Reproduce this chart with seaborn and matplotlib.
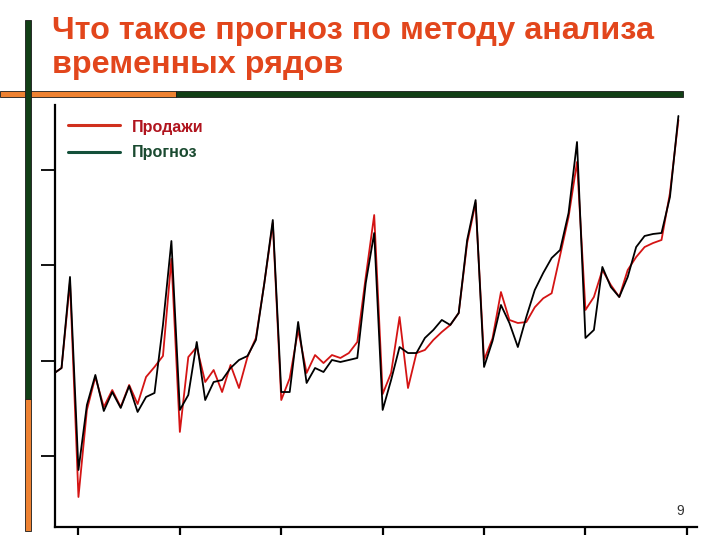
import matplotlib
matplotlib.use("Agg")
import matplotlib.pyplot as plt
import pandas as pd
import seaborn as sns
from matplotlib.lines import Line2D
from matplotlib.patches import Rectangle

# DATA
months = list(range(75))
sales = [186.0, 192.3, 282.5, 57.0, 148.3, 182.9, 151.4, 169.2, 151.4, 174.5,
         154.5, 182.9, 193.4, 204.9, 306.7, 125.2, 203.8, 214.3, 177.6, 190.2,
         167.1, 195.5, 171.3, 203.8, 223.8, 281.5, 344.4, 158.7, 181.5, 232.2,
         187.1, 205.9, 197.5, 205.9, 202.8, 208.0, 219.6, 287.8, 352.8, 165.0,
         187.1, 245.8, 171.3, 208.0, 211.2, 221.7, 230.1, 237.4, 250.0, 323.4,
         365.4, 200.7, 223.4, 272.0, 242.7, 239.5, 240.5, 256.0, 265.4, 270.7,
         310.5, 350.7, 408.4, 253.2, 266.8, 295.1, 279.4, 266.8, 295.1, 308.7,
         319.2, 323.4, 326.6, 375.9, 452.5]
forecast = [186.0, 192.3, 287.8, 85.3, 153.5, 185.0, 147.2, 167.1, 150.4, 173.4,
            146.2, 161.9, 166.1, 237.4, 325.5, 148.3, 164.0, 219.6, 158.7, 177.6,
            179.7, 192.3, 200.7, 204.9, 221.7, 281.5, 347.6, 167.1, 167.1, 240.6,
            176.6, 192.3, 188.1, 200.7, 198.6, 200.7, 202.8, 281.5, 333.9, 148.3,
            179.7, 214.3, 208.0, 208.0, 223.8, 232.2, 242.7, 237.4, 250.0, 326.6,
            368.5, 193.4, 220.6, 258.4, 239.5, 214.3, 245.8, 274.1, 292.0, 307.7,
            316.1, 354.9, 429.4, 223.8, 232.2, 298.3, 277.3, 266.8, 287.8, 319.2,
            330.8, 332.9, 333.9, 371.7, 456.7]
series_names = ["Продажи", "Прогноз"]
x_ticks = [3, 15, 27, 39, 51, 63, 75]
y_ticks = [100, 200, 300, 400]
title_lines = ["Что такое прогноз по методу анализа", "временных рядов"]
page_no = "9"

df = pd.DataFrame({
    "month": months + months,
    "value": sales + forecast,
    "series": [series_names[0]] * len(sales) + [series_names[1]] * len(forecast),
})

sns.set_style("white")
plt.rcParams["font.family"] = ["Liberation Sans", "DejaVu Sans"]

W, H = 728, 546
fig = plt.figure(figsize=(W / 100, H / 100), dpi=100)
ax = fig.add_axes([55 / W, 1 - 527 / H, (697 - 55) / W, (527 - 105) / H])

sns.lineplot(data=df, x="month", y="value", hue="series", hue_order=series_names,
             palette={series_names[0]: "#D41414", series_names[1]: "#000000"},
             estimator=None, linewidth=1.3, legend=False, ax=ax)

ax.set_xlim(0.225, 76.2)
ax.set_ylim(25.5, 468.2)
ax.set_xticks(x_ticks)
ax.set_yticks(y_ticks)
ax.set_xticklabels([])
ax.set_yticklabels([])
ax.set_xlabel("")
ax.set_ylabel("")
sns.despine(ax=ax)
for s in ["left", "bottom"]:
    ax.spines[s].set_color("black")
    ax.spines[s].set_linewidth(1.6)
ax.tick_params(axis="y", direction="out", length=10, width=1.3, color="black", left=True)
ax.tick_params(axis="x", direction="out", length=6, width=1.6, color="black", bottom=True)


def px_rect(x0, y0, x1, y1, color):
    # pixel box (top-left origin) -> figure rectangle
    r = Rectangle((x0 / W, 1 - y1 / H), (x1 - x0) / W, (y1 - y0) / H,
                  transform=fig.transFigure, facecolor=color,
                  edgecolor="#1a1a1a", linewidth=0.6)
    fig.add_artist(r)


# slide decoration
px_rect(0, 91, 176, 96.5, "#EE8232")
px_rect(176, 91, 683, 96.5, "#123F16")
px_rect(25, 20, 31, 399, "#123F16")
px_rect(25, 399, 31, 531, "#EE8232")

# title
fig.text(52 / W, 1 - 38.5 / H, title_lines[0], color="#E2461C", fontsize=23.3,
         fontweight="bold", va="baseline", ha="left")
fig.text(52 / W, 1 - 72.7 / H, title_lines[1], color="#E2461C", fontsize=23.3,
         fontweight="bold", va="baseline", ha="left")

# legend
leg_cols = ["#D0301E", "#14503A"]
txt_cols = ["#B0141E", "#1A4A30"]
for k, (yl, yb) in enumerate([(125, 132.3), (151.7, 156.7)]):
    fig.add_artist(Line2D([68 / W, 120 / W], [1 - yl / H] * 2, color=leg_cols[k],
                          linewidth=2.2, transform=fig.transFigure))
    fig.text(131.7 / W, 1 - yb / H, series_names[k], color=txt_cols[k], fontsize=11.6,
             fontweight="bold", va="baseline", ha="left")

fig.text(684 / W, 1 - 515 / H, page_no, color="#333333", fontsize=10,
         va="baseline", ha="right")

fig.savefig("out.png", dpi=100)
